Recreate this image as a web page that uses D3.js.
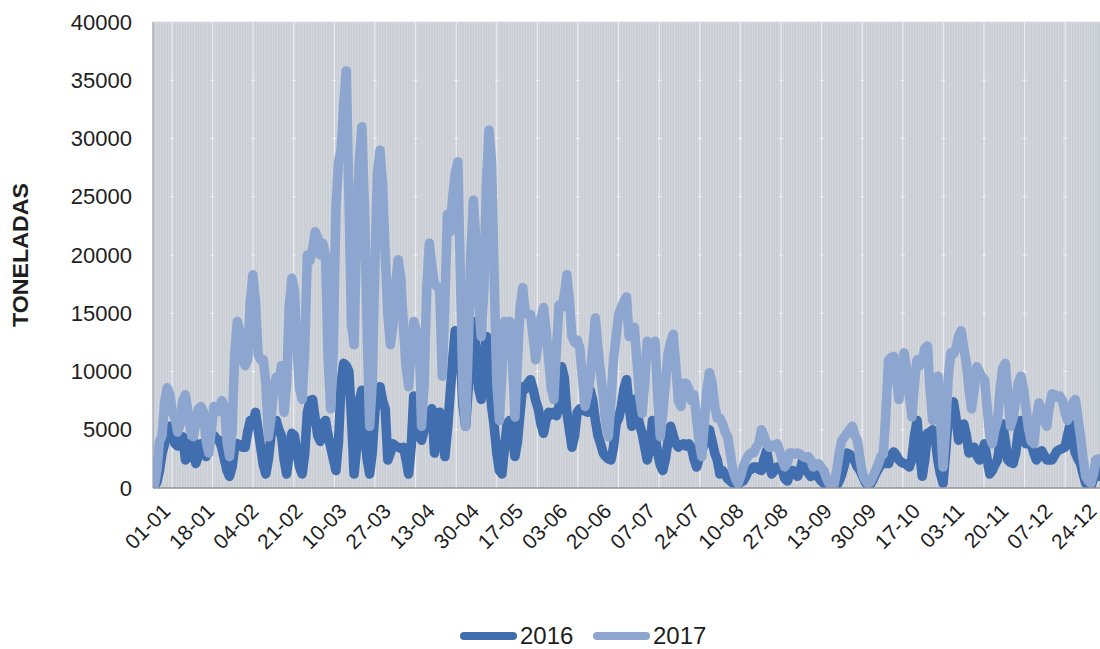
<!DOCTYPE html>
<html>
<head>
<meta charset="utf-8">
<script src="https://cdn.jsdelivr.net/npm/d3@7"></script>
<style>
  html, body { margin: 0; padding: 0; background: #ffffff; }
  svg text { font-family: "Liberation Sans", Arial, sans-serif; fill: #1e1e1e; }
</style>
</head>
<body>
<svg id="chart" width="1100" height="649"></svg>
<script>
// ---------- DATA ----------
const seriesNames = ["2016", "2017"];
const xTickLabels = ["01-01","18-01","04-02","21-02","10-03","27-03","13-04","30-04","17-05","03-06","20-06",
  "07-07","24-07","10-08","27-08","13-09","30-09","17-10","03-11","20-11","07-12","24-12"];
const yTicks = [0, 5000, 10000, 15000, 20000, 25000, 30000, 35000, 40000];
const yTitle = "TONELADAS";

const values2016 = [
  100,500,1500,3000,3800,5000,5300,4500,3800,3600,
  4200,4400,2400,2600,3800,4100,2100,2800,3800,3500,
  2700,3500,4400,4500,4200,4100,3500,2500,1500,1000,
  1800,3500,3800,3700,3500,3500,4800,5800,5600,6500,
  5000,3500,2000,1200,2500,4500,5500,5800,5000,4500,
  2500,1200,3000,4700,4500,3000,1800,1200,3000,6500,
  7500,7600,6000,4500,4000,5500,5800,4500,3500,2500,
  1500,4000,9000,10700,10500,10000,6000,1200,3500,7500,
  8400,5000,2500,1200,3000,6500,8500,8700,7500,6800,
  2400,3000,3800,3600,3500,3400,3500,2500,1200,3500,
  7900,6000,4500,4100,5000,6000,6500,6800,3000,4500,
  6500,5500,2700,5000,8000,11000,13500,12500,11000,7000,
  5300,8500,12500,14300,12000,8500,7600,11000,13000,10000,
  7000,5300,3000,1500,1200,3500,5500,5800,4500,2700,
  4000,6500,8700,8500,9000,9300,8500,7500,6800,5500,
  4700,5800,6500,6300,6500,6200,7000,10400,9500,6500,
  5000,3500,4500,6500,6800,6700,6600,6500,8400,7500,
  5800,4500,3800,3000,2700,2500,2400,3500,5500,6000,
  7000,8500,9300,7000,5300,7600,6500,5500,4700,3500,
  2400,3500,5800,4500,3000,2000,1500,2500,4000,5300,
  4500,3800,3500,3700,3800,3600,3800,3500,2500,1800,
  2500,3200,3800,4500,5000,4000,3000,2400,1200,1500,
  1200,800,600,400,200,300,500,600,1000,1500,
  1600,1800,1800,1600,1500,2500,3200,2000,1200,1500,
  1800,1800,1500,800,600,1200,1500,1200,1000,1600,
  2500,2000,1300,1000,1100,1200,900,600,400,200,
  100,100,200,200,600,1200,2000,3000,2900,2700,
  2300,1800,1500,1000,500,200,300,700,1200,1600,
  2000,2100,2100,2100,2800,3100,2800,2400,2200,2100,
  2000,1800,2500,4500,5800,3000,1000,2500,4700,4800,
  5000,4200,2400,1200,400,3000,6000,7000,7400,6000,
  4100,4500,5500,4500,3000,3200,3500,2800,2400,3000,
  3800,2500,1200,1500,2000,2400,4000,5500,4000,2400,
  2200,2100,3000,4800,5800,4500,3800,3800,3800,3000,
  2400,2800,3200,2800,2400,2400,2400,2800,3200,3300,
  3400,3500,4500,5500,4000,3000,2500,2100,1200,400,
  200,100,800,2400,1000
];

const values2017 = [
  200,1500,4000,4500,7500,8600,8000,6500,6000,4800,
  5500,7500,8000,6500,5000,4400,5500,6800,7000,6500,
  4000,3000,5000,7000,6500,6800,7500,7000,4000,2700,
  5000,11500,14300,13500,11000,10500,11000,16000,18300,16000,
  11500,11000,11000,9000,4400,6000,8500,9500,9000,10500,
  6500,9000,15500,18000,17000,12000,8500,7600,12000,20000,
  19500,20500,22000,21500,20000,21000,20000,11000,6800,12000,
  24000,28000,29000,33000,35800,25000,14000,12300,22000,28000,
  31000,24000,14000,5300,9000,19000,27000,29000,26000,20000,
  15000,12300,14000,17500,19600,18000,14000,10500,8700,12000,
  14300,13500,13200,5300,9000,17000,21000,19000,17500,17300,
  17000,9600,16000,23500,22000,25000,27000,28000,18000,8000,
  5300,12000,20000,24700,21000,16000,13000,17000,26000,30700,
  28000,18000,9000,5800,10000,14300,14000,14300,11000,6100,
  11000,15500,17200,15000,14900,14900,13000,11000,12500,14500,
  15500,13500,11000,8500,7600,12000,15700,15500,16500,18300,
  16000,13000,12500,12700,12000,9500,7000,8000,9600,12000,
  14600,12000,9900,8000,5500,4400,7500,11000,13000,14900,
  15500,16000,16400,13000,13500,13800,11000,8000,6400,9000,
  12600,12000,11500,12600,8000,4400,6500,9000,11500,12500,
  13200,10500,7500,7000,9000,9000,8500,7500,8000,6000,
  4000,2700,5500,8500,9900,9000,7000,6000,6000,5500,
  4800,4400,3000,1500,800,400,1000,1800,2400,2800,
  3000,3000,3500,3800,5000,4500,3800,3500,3500,3700,
  3800,3200,2400,1800,2200,3000,3000,2900,3000,2900,
  2700,2600,2700,2400,1800,2000,2100,1800,1500,900,
  400,200,300,1500,3000,4100,4400,4700,5000,5300,
  4500,4100,2500,1200,700,400,500,1000,1500,2000,
  2700,2900,6500,11000,11200,11300,9500,7600,9500,11600,
  10200,8000,6100,9000,11000,10500,11000,12000,12200,8500,
  5800,7500,9600,6000,1800,5000,9500,11600,11500,12000,
  13000,13500,12000,10700,8500,6800,8500,10400,10000,9500,
  9300,7000,4500,3800,5000,5800,8500,10300,10700,8000,
  5300,6000,7500,9000,9600,8500,6800,5000,4000,3800,
  6000,7300,6500,5800,5300,7000,8100,8000,7800,7900,
  7500,6500,5800,6500,7300,7600,6000,4400,2500,1000,
  600,400,1200,2400,2500
];

// categories: one per day of a non-leap year, labelled dd-mm
const fmt = d3.timeFormat("%d-%m");
const categories = d3.timeDays(new Date(2017, 0, 1), new Date(2018, 0, 1)).map(fmt);

// ---------- LAYOUT ----------
const colors = { "2016": "#416eae", "2017": "#8da6cf" };
const plot = { left: 153, right: 1100, top: 22, bottom: 488 };

const svg = d3.select("#chart");

const x = d3.scaleBand().domain(categories).range([plot.left, plot.right]).paddingInner(0).paddingOuter(0);
const xc = c => x(c) + x.bandwidth() / 2;
const y = d3.scaleLinear().domain([0, 40000]).range([plot.bottom, plot.top]);

// plot background
svg.append("rect")
  .attr("x", plot.left).attr("y", plot.top)
  .attr("width", plot.right - plot.left).attr("height", plot.bottom - plot.top)
  .attr("fill", "#c9cdd4");

// dense daily vertical gridlines
svg.append("g").selectAll("line").data(categories).join("line")
  .attr("x1", c => x(c)).attr("x2", c => x(c))
  .attr("y1", plot.top).attr("y2", plot.bottom)
  .attr("stroke", "#ffffff").attr("stroke-opacity", 0.3).attr("stroke-width", 0.8);

// brighter gridlines (every ~15.65 days as seen in the picture)
const brightDays = d3.range(7.3, 365, 15.65);
const xLin = d3.scaleLinear().domain([0, 365]).range([plot.left, plot.right]);
svg.append("g").selectAll("line").data(brightDays).join("line")
  .attr("x1", d => xLin(d)).attr("x2", d => xLin(d))
  .attr("y1", plot.top).attr("y2", plot.bottom)
  .attr("stroke", "#eef0f4").attr("stroke-opacity", 0.9).attr("stroke-width", 1.2);

// small cross marks at 5000 levels on bright lines
const crossG = svg.append("g");
brightDays.forEach(d => {
  yTicks.slice(1, -1).forEach(v => {
    crossG.append("line")
      .attr("x1", xLin(d) - 2).attr("x2", xLin(d) + 2)
      .attr("y1", y(v)).attr("y2", y(v))
      .attr("stroke", "#f2f3f6").attr("stroke-width", 1);
  });
});

// frame
svg.append("line").attr("x1", plot.left).attr("x2", plot.right).attr("y1", plot.top).attr("y2", plot.top)
  .attr("stroke", "#dcdfe4").attr("stroke-width", 1);
svg.append("line").attr("x1", plot.left).attr("x2", plot.left).attr("y1", plot.top).attr("y2", plot.bottom)
  .attr("stroke", "#9a9ea6").attr("stroke-width", 1.2);

// clip
svg.append("clipPath").attr("id", "plotclip").append("rect")
  .attr("x", plot.left).attr("y", plot.top - 10)
  .attr("width", plot.right - plot.left).attr("height", plot.bottom - plot.top + 10);

const line = d3.line()
  .x((v, i) => xc(categories[i]))
  .y(v => y(v))
  .curve(d3.curveLinear);

const seriesData = { "2016": values2016, "2017": values2017 };
const linesG = svg.append("g").attr("clip-path", "url(#plotclip)");
seriesNames.forEach(name => {
  linesG.append("path")
    .datum(seriesData[name])
    .attr("d", line)
    .attr("fill", "none")
    .attr("stroke", colors[name])
    .attr("stroke-width", 9.5)
    .attr("stroke-linejoin", "round")
    .attr("stroke-linecap", "round");
});

// bottom axis line
svg.append("line").attr("x1", plot.left).attr("x2", plot.right).attr("y1", plot.bottom).attr("y2", plot.bottom)
  .attr("stroke", "#8f939a").attr("stroke-width", 1.5);

// y axis labels
const yAxis = d3.axisLeft(y).tickValues(yTicks).tickSize(0).tickPadding(21).tickFormat(d3.format("d"));
const yG = svg.append("g").attr("transform", `translate(${plot.left},0)`).call(yAxis);
yG.select(".domain").remove();
yG.selectAll("text").attr("font-size", 22).attr("font-family", "'Liberation Sans', Arial, sans-serif").attr("fill", "#1e1e1e");

// x axis labels (every 17 days)
const tickIdx = xTickLabels.map(l => categories.indexOf(l));
const xG = svg.append("g");
xG.selectAll("text").data(tickIdx).join("text")
  .attr("transform", i => `translate(${xc(categories[i]) + 7},${plot.bottom + 14}) rotate(-45)`)
  .attr("text-anchor", "end")
  .attr("dy", "0.7em")
  .attr("font-size", 21)
  .text(i => categories[i]);

// y title
svg.append("text")
  .attr("transform", `translate(28,255) rotate(-90)`)
  .attr("text-anchor", "middle")
  .attr("font-size", 22)
  .attr("font-weight", "bold")
  .attr("textLength", 144)
  .attr("lengthAdjust", "spacingAndGlyphs")
  .text(yTitle);

// legend
const legend = [
  { name: "2016", x1: 460, x2: 517, tx: 520 },
  { name: "2017", x1: 593, x2: 650, tx: 653 }
];
const lg = svg.append("g");
legend.forEach(l => {
  lg.append("line").attr("x1", l.x1 + 4).attr("x2", l.x2 - 4).attr("y1", 636).attr("y2", 636)
    .attr("stroke", colors[l.name]).attr("stroke-width", 8).attr("stroke-linecap", "round");
  lg.append("text").attr("x", l.tx).attr("y", 644).attr("font-size", 24).text(l.name);
});
</script>
</body>
</html>
